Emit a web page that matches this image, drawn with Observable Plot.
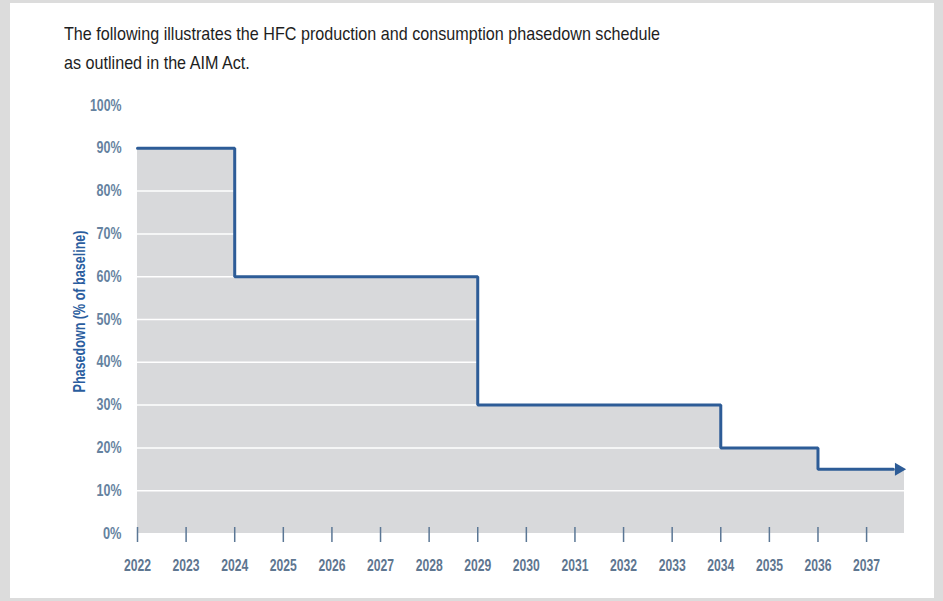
<!DOCTYPE html>
<html>
<head>
<meta charset="utf-8">
<script src="https://cdn.jsdelivr.net/npm/d3@7"></script>
<script src="https://cdn.jsdelivr.net/npm/@observablehq/plot@0.6"></script>
<style>
  html, body { margin: 0; padding: 0; width: 943px; height: 601px; overflow: hidden; background: #dcdcdc; }
  #frame { position: absolute; left: 10px; top: 3px; width: 924px; height: 595px; background: #ffffff; }
  #title { position: absolute; left: 64px; top: 19px; font-family: "Liberation Sans", Arial, sans-serif; font-size: 19px; line-height: 29px; color: #1e1e1e; white-space: nowrap; transform-origin: 0 0; }
  #chart { position: absolute; left: 10px; top: 90px; }
</style>
</head>
<body>
<div id="frame"></div>
<div id="title"><div>The following illustrates the HFC production and consumption phasedown schedule</div><div>as outlined in the AIM Act.</div></div>
<div id="chart"></div>
<script>
// Phasedown schedule (% of baseline) — step starts
const stepYears  = [2022, 2024, 2029, 2034, 2036];
const stepValues = [90, 60, 30, 20, 15];
const areaEndYear = 2037.78;   // where the shaded area / arrow tip ends
const lineEndYear = 2037.55;   // where the line body meets the arrowhead
const arrowYear   = 2037.66;
const yearTicks = d3.range(2022, 2038);
const yTicks = [0, 10, 20, 30, 40, 50, 60, 70, 80, 90, 100];
const gridValues = [10, 20, 30, 40, 50, 60, 70, 80];
const yLabel = "Phasedown (% of baseline)";

const areaData = stepYears.map((x, i) => ({x, y: stepValues[i]}))
  .concat([{x: areaEndYear, y: stepValues[stepValues.length - 1]}]);
const lineData = stepYears.map((x, i) => ({x, y: stepValues[i]}))
  .concat([{x: lineEndYear, y: stepValues[stepValues.length - 1]}]);
const arrowData = [{x: arrowYear, y: stepValues[stepValues.length - 1]}];

const font = '"Liberation Sans", Arial, sans-serif';
const lineColor = "#2d5c97";
const tickColor = "#5b7795";

const chart = Plot.plot({
  width: 924,
  height: 500,
  marginLeft: 127,
  marginRight: 30,
  marginTop: 15,
  marginBottom: 57,
  style: {fontFamily: font, background: "transparent", overflow: "visible"},
  x: {domain: [2022, areaEndYear]},
  y: {domain: [0, 100]},
  marks: [
    Plot.areaY(areaData, {x: "x", y: "y", curve: "step-after", fill: "#d8d9db"}),
    Plot.ruleY(gridValues, {x1: 2022, x2: areaEndYear, stroke: "#ffffff", strokeWidth: 1.5}),
    Plot.line(lineData, {x: "x", y: "y", curve: "step-after", stroke: lineColor, strokeWidth: 3, strokeLinejoin: "miter"}),
    Plot.dot(arrowData, {x: "x", y: "y", symbol: "triangle", rotate: 90, r: 4.8, fill: lineColor, stroke: "none"}),
    Plot.ruleX(yearTicks, {x: d => d, y1: -2.1, y2: 1.4, stroke: tickColor, strokeWidth: 1.5}),
    Plot.axisX(yearTicks, {tickSize: 0, tickPadding: 26, tickFormat: d => String(d), fontSize: 16, fontWeight: "bold", fill: "#5e7690", label: null}),
    Plot.axisY(yTicks, {tickSize: 0, tickPadding: 16, tickFormat: d => d + "%", fontSize: 16, fontWeight: "bold", fill: "#6582a0", label: null}),
    Plot.text([yLabel], {frameAnchor: "left", textAnchor: "middle", dx: -58, dy: -8, rotate: -90, fontSize: 16, fontWeight: "bold", fill: "#2a5d9e"})
  ]
});
document.getElementById("chart").appendChild(chart);

// condense text to mimic a narrow typeface
d3.select(chart).selectAll("text").each(function() {
  const t = this.textContent;
  let len = null;
  if (/^\d{4}$/.test(t)) len = 27;
  else if (/^\d+%$/.test(t)) len = (t.length - 1) * 6.5 + 12;
  else if (t === yLabel) len = 162;
  if (len) {
    this.setAttribute("textLength", len);
    this.setAttribute("lengthAdjust", "spacingAndGlyphs");
  }
});
const title = document.getElementById("title");
const w = title.firstElementChild.getBoundingClientRect().width;
title.style.transform = `scaleX(${596 / w})`;
</script>
</body>
</html>
